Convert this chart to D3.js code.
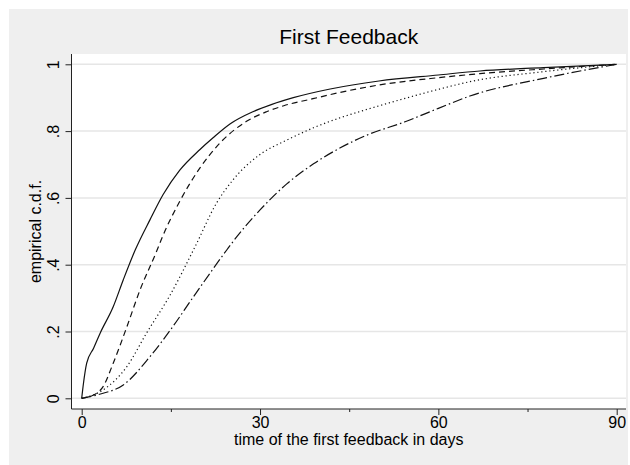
<!DOCTYPE html>
<html><head><meta charset="utf-8">
<script src="https://cdn.jsdelivr.net/npm/d3@7"></script>
<style>
html,body{margin:0;padding:0;background:#fff;}
svg{display:block;}
text{font-family:"Liberation Sans",Arial,sans-serif;fill:#000;}
</style></head>
<body>
<svg id="c" width="630" height="465"></svg>
<script>
const title = "First Feedback";
const xLabel = "time of the first feedback in days";
const yLabel = "empirical c.d.f.";
const xTicks = [0, 30, 60, 90];
const xMinorTicks = [15, 45, 75];
const yTicks = [0, 0.2, 0.4, 0.6, 0.8, 1];
const yTickLabels = ["0", ".2", ".4", ".6", ".8", "1"];

// series 1 (solid)
const s1x = [0, 0.3, 0.84, 2, 3.1, 5.3, 7, 9, 11.5, 13.7, 16.5, 19.9, 22.1, 25, 28.8, 32, 35.6, 41.8, 50, 60, 67, 77.7, 90];
const s1y = [0, 0.045, 0.105, 0.15, 0.195, 0.274, 0.355, 0.444, 0.535, 0.61, 0.683, 0.745, 0.78, 0.822, 0.858, 0.88, 0.9, 0.926, 0.95, 0.968, 0.98, 0.99, 1];
// series 2 (dashed)
const s2x = [0, 2, 3.6, 5.3, 7.6, 9.8, 12.6, 13.5, 16.5, 19.9, 23.3, 27.8, 31.1, 34, 38.9, 43.5, 50, 60, 67, 77.7, 90];
const s2y = [0, 0.01, 0.035, 0.105, 0.214, 0.324, 0.44, 0.48, 0.59, 0.69, 0.765, 0.83, 0.858, 0.876, 0.897, 0.916, 0.938, 0.96, 0.972, 0.986, 1];
// series 3 (dotted)
const s3x = [0, 3.6, 7.6, 10.9, 14.9, 19.1, 22.7, 25.5, 30, 34.5, 39, 43.5, 48, 54.4, 60, 65.3, 77.7, 90];
const s3y = [0, 0.025, 0.095, 0.195, 0.31, 0.455, 0.585, 0.655, 0.73, 0.773, 0.81, 0.84, 0.865, 0.898, 0.925, 0.948, 0.978, 1];
// series 4 (dash-dot)
const s4x = [0, 3, 7, 11.5, 14.9, 18.8, 24.4, 26.1, 30, 34.5, 39, 43.5, 48, 54.4, 60, 65.3, 77.7, 90];
const s4y = [0, 0.012, 0.04, 0.125, 0.204, 0.304, 0.444, 0.484, 0.564, 0.642, 0.702, 0.75, 0.788, 0.828, 0.868, 0.905, 0.958, 1];

const series = [
  {xs: s1x, ys: s1y, dash: null},
  {xs: s2x, ys: s2y, dash: "6,4"},
  {xs: s3x, ys: s3y, dash: "1.2,2.8"},
  {xs: s4x, ys: s4y, dash: "10,3,1.5,3"}
];

const svg = d3.select("#c");
const W = 630, H = 465;
const plot = {l: 71.5, r: 626, t: 54, b: 409};

svg.append("rect").attr("x", 9).attr("y", 9).attr("width", 619).attr("height", H - 9).attr("fill", "#efefef");
svg.append("rect").attr("x", plot.l).attr("y", plot.t).attr("width", plot.r - plot.l).attr("height", plot.b - plot.t).attr("fill", "#fff");

const x = d3.scaleLinear().domain([0, 90]).range([81.7, 616.7]);
const y = d3.scaleLinear().domain([0, 1]).range([398.3, 64.3]);

// gridlines
svg.append("g").selectAll("line").data(yTicks).join("line")
  .attr("x1", plot.l).attr("x2", plot.r)
  .attr("y1", d => y(d)).attr("y2", d => y(d))
  .attr("stroke", "#e6e6e6").attr("stroke-width", 1.5);

// lines
const line = d3.line().x(d => x(d[0])).y(d => y(d[1])).curve(d3.curveMonotoneX);
series.forEach(s => {
  const pts = s.xs.map((v, i) => [v, s.ys[i]]);
  svg.append("path").datum(pts).attr("d", line)
    .attr("fill", "none").attr("stroke", "#111").attr("stroke-width", 1.2)
    .attr("stroke-dasharray", s.dash);
});

// axes
const xAxis = d3.axisBottom(x).tickValues(xTicks).tickSize(6).tickPadding(2).tickFormat(d3.format("d"));
const gx = svg.append("g").attr("transform", `translate(0,${plot.b})`).call(xAxis);
gx.select(".domain").remove();
gx.append("line").attr("x1", plot.l).attr("x2", plot.r).attr("stroke", "#222");
gx.selectAll(".tick line").attr("stroke", "#222");
gx.selectAll(".tick text").attr("font-size", 16).attr("font-family", "Liberation Sans, Arial, sans-serif").attr("fill", "#000");
const xMinor = d3.axisBottom(x).tickValues(xMinorTicks).tickSize(3).tickFormat("");
const gxm = svg.append("g").attr("transform", `translate(0,${plot.b})`).call(xMinor);
gxm.select(".domain").remove();
gxm.selectAll(".tick line").attr("stroke", "#222");

const yAxis = d3.axisLeft(y).tickValues(yTicks).tickSize(6).tickFormat((d, i) => yTickLabels[i]);
const gy = svg.append("g").attr("transform", `translate(${plot.l},0)`).call(yAxis);
gy.select(".domain").remove();
gy.append("line").attr("y1", plot.t).attr("y2", plot.b).attr("stroke", "#222");
gy.selectAll(".tick line").attr("stroke", "#222");
gy.selectAll(".tick text")
  .attr("font-size", 16).attr("font-family", "Liberation Sans, Arial, sans-serif").attr("fill", "#000")
  .attr("x", null).attr("dy", null)
  .attr("text-anchor", "middle")
  .attr("transform", "translate(-13,0) rotate(-90)");

// titles
const cx = (plot.l + plot.r) / 2;
svg.append("text").attr("x", cx).attr("y", 44).attr("text-anchor", "middle").attr("font-size", 21).text(title);
svg.append("text").attr("x", cx).attr("y", 445).attr("text-anchor", "middle").attr("font-size", 16).text(xLabel);
svg.append("text").attr("transform", `translate(41,${(plot.t + plot.b) / 2}) rotate(-90)`).attr("text-anchor", "middle").attr("font-size", 16).text(yLabel);
</script>
</body></html>
